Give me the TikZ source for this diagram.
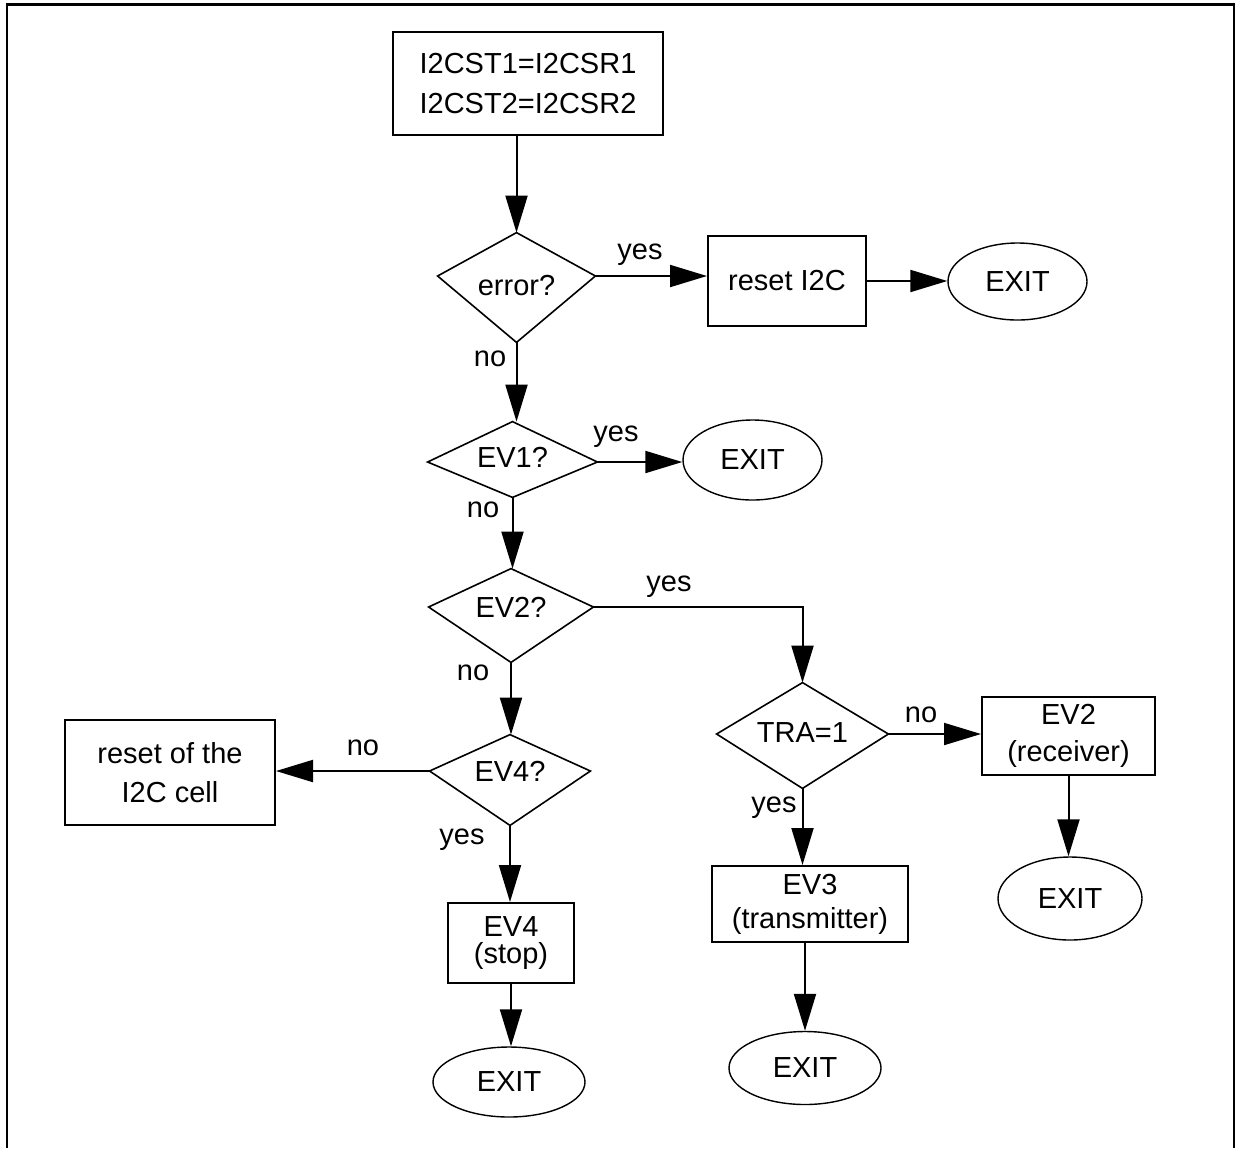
\documentclass[tikz,border=0pt]{standalone}
\usepackage{fontspec}
\setmainfont{Liberation Sans}
\usetikzlibrary{shapes.geometric,arrows.meta}
\begin{document}
\begin{tikzpicture}[x=0.5pt,y=-0.5pt,
  every node/.style={font=\fontsize{14.5}{17}\selectfont, inner sep=0pt},
  procbox/.style={draw, line width=1pt, rectangle, align=center},
  decision/.style={rectangle, anchor=base, text height=#1,
    append after command={\pgfextra{\draw[line width=0.8pt, line join=miter]
      (\tikzlastnode.north) -- ([yshift=\decshift]\tikzlastnode.base west)
      -- (\tikzlastnode.south) -- ([yshift=\decshift]\tikzlastnode.base east) -- cycle;}}},
  term/.style={draw, line width=0.7pt, ellipse},
  flow/.style={line width=1pt, -{Triangle[length=18.5pt,width=11pt]}}
]
\useasboundingbox (0,0) rectangle (1242,1148);
\draw[line width=1.2pt] (7,1148) -- (7,4.5) -- (1234,4.5) -- (1234,1148);

% process boxes and terminals
\node[procbox, minimum width=135pt, minimum height=51.5pt, font=\fontsize{14.5}{20}\selectfont] (top) at (528,83.5) {I2CST1=I2CSR1\\I2CST2=I2CSR2};
\node[procbox, minimum width=79pt, minimum height=45pt] (rst) at (787,281) {reset I2C};
\node[term, minimum width=69.5pt, minimum height=38.5pt] (x1) at (1017.5,281.5) {EXIT};
\node[term, minimum width=69.5pt, minimum height=40pt] (x2) at (752.5,460) {EXIT};
\node[procbox, minimum width=105pt, minimum height=52.5pt, font=\fontsize{14.5}{19.5}\selectfont] (cell) at (170,772.5) {reset of the\\I2C cell};
\node[procbox, minimum width=63pt, minimum height=40pt, font=\fontsize{14.5}{13.5}\selectfont] (ev4b) at (511,943) {EV4\\(stop)};
\node[term, minimum width=76pt, minimum height=35pt] (x3) at (509,1082) {EXIT};
\node[procbox, minimum width=86.5pt, minimum height=39pt, font=\fontsize{14.5}{18.5}\selectfont] (ev2b) at (1068.5,736) {EV2\\(receiver)};
\node[term, minimum width=72pt, minimum height=41.5pt] (x4) at (1070,898.5) {EXIT};
\node[procbox, minimum width=98pt, minimum height=38pt, font=\fontsize{14.5}{17}\selectfont] (ev3) at (810,904) {EV3\\(transmitter)};
\node[term, minimum width=76pt, minimum height=36.5pt] (x5) at (805,1068) {EXIT};

% decisions (node placed on its text baseline; outline drawn with the lateral vertices shifted)
\def\decshift{9.5pt}
\node[decision=31pt, text depth=23.5pt, minimum width=78.5pt] (err) at (516.5,295) {error?};
\def\decshift{2.5pt}
\node[decision=22.5pt, text depth=15pt, minimum width=84.5pt] (ev1) at (512.5,467) {EV1?};
\def\decshift{5pt}
\node[decision=24pt, text depth=22.5pt, minimum width=82pt] (ev2) at (511,617) {EV2?};
\node[decision=23pt, text depth=22pt, minimum width=80pt] (ev4) at (510,781) {EV4?};
\def\decshift{4pt}
\node[decision=29.5pt, text depth=23pt, minimum width=85.5pt] (tra) at (802.5,742) {TRA=1};

% labels
\node (l1) at (640,255) {yes};
\node (l2) at (490,359) {no};
\node (l3) at (616,437) {yes};
\node (l4) at (483,510) {no};
\node (l5) at (669,587) {yes};
\node (l6) at (473,673) {no};
\node (l7) at (363,748) {no};
\node (l8) at (462,840) {yes};
\node (l9) at (921,715) {no};
\node (l10) at (774,808) {yes};

% connectors
\draw[flow] (err.north |- top.south) -- (err.north);
\draw[flow] ([yshift=9.5pt]err.base east) -- ([yshift=9.5pt]err.base east -| rst.west);
\draw[flow] (rst.east) -- (rst.east -| x1.west);
\draw[flow] (err.south) -- (err.south |- ev1.north);
\draw[flow] ([yshift=2.5pt]ev1.base east) -- ([yshift=2.5pt]ev1.base east -| x2.west);
\draw[flow] (ev1.south) -- (ev1.south |- ev2.north);
\draw[flow] ([yshift=5pt]ev2.base east) -| (tra.north);
\draw[flow] (ev2.south) -- (ev2.south |- ev4.north);
\draw[flow] ([yshift=5pt]ev4.base west) -- ([yshift=5pt]ev4.base west -| cell.east);
\draw[flow] (ev4.south) -- (ev4.south |- ev4b.north);
\draw[flow] (ev4b.south) -- (ev4b.south |- x3.north);
\draw[flow] ([yshift=4pt]tra.base east) -- ([yshift=4pt]tra.base east -| ev2b.west);
\draw[flow] (tra.south) -- (tra.south |- ev3.north);
\draw[flow] (ev2b.south) -- (ev2b.south |- x4.north);
\draw[flow] (x5.north |- ev3.south) -- (x5.north);
\end{tikzpicture}
\end{document}
